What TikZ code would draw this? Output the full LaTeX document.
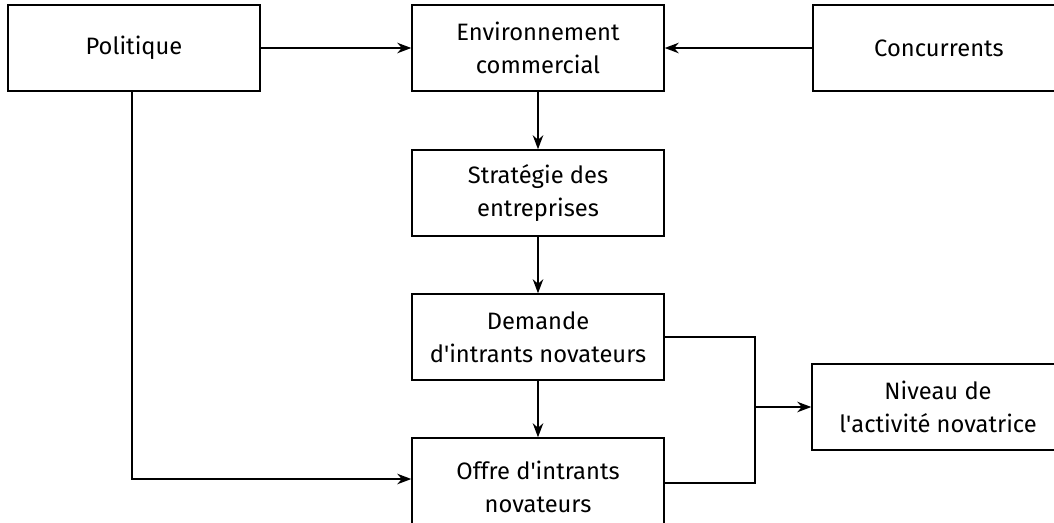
\documentclass[tikz,border=0pt]{standalone}
\usepackage{fontspec}
\setmainfont{Fira Sans}
\usetikzlibrary{arrows.meta}
\tikzset{%
    boite/.style={draw, line width=0.85pt, minimum width=5.04cm, minimum height=1.72cm, align=center, font=\fontsize{13.5}{19}\selectfont, inner sep=0pt},
    lien/.style={line width=0.85pt},
    fle/.style={line width=0.85pt, -{Stealth[length=8pt, width=6pt]}}
}
\newcommand{\apos}{\textquotesingle}

\begin{document}
\begin{tikzpicture}[x=0.02cm, y=-0.02cm]
    \clip (0,0) rectangle (1054,522);
    \useasboundingbox (0,0) rectangle (1054,522);
    \node[boite] (pol) at (134,48) {Politique};
    \node[boite] (env) at (538,48) {Environnement\\commercial};
    \node[boite] (conc) at (939,48) {Concurrents};
    \node[boite] (strat) at (538,193) {Stratégie des\\entreprises};
    \node[boite] (dem) at (538,337) {Demande\\d\apos intrants novateurs};
    \node[boite, minimum height=1.96cm] (off) at (538,487) {Offre d\apos intrants\\novateurs};
    \node[boite] (niv) at (938,407) {Niveau de\\l\apos activité novatrice};
    \coordinate (brk) at (755,407);
    \draw [fle](pol)--(env);
    \draw [fle](conc)--(env);
    \draw [fle](env)--(strat);
    \draw [fle](strat)--(dem);
    \draw [fle](dem)--(off);
    \draw [fle](pol.south -| 132,0)|-([yshift=0.16cm]off.west);
    \draw [lien](dem.east)-|(brk)|-([yshift=0.08cm]off.east);
    \draw [fle](brk)--(niv.west);
\end{tikzpicture}
\end{document}
